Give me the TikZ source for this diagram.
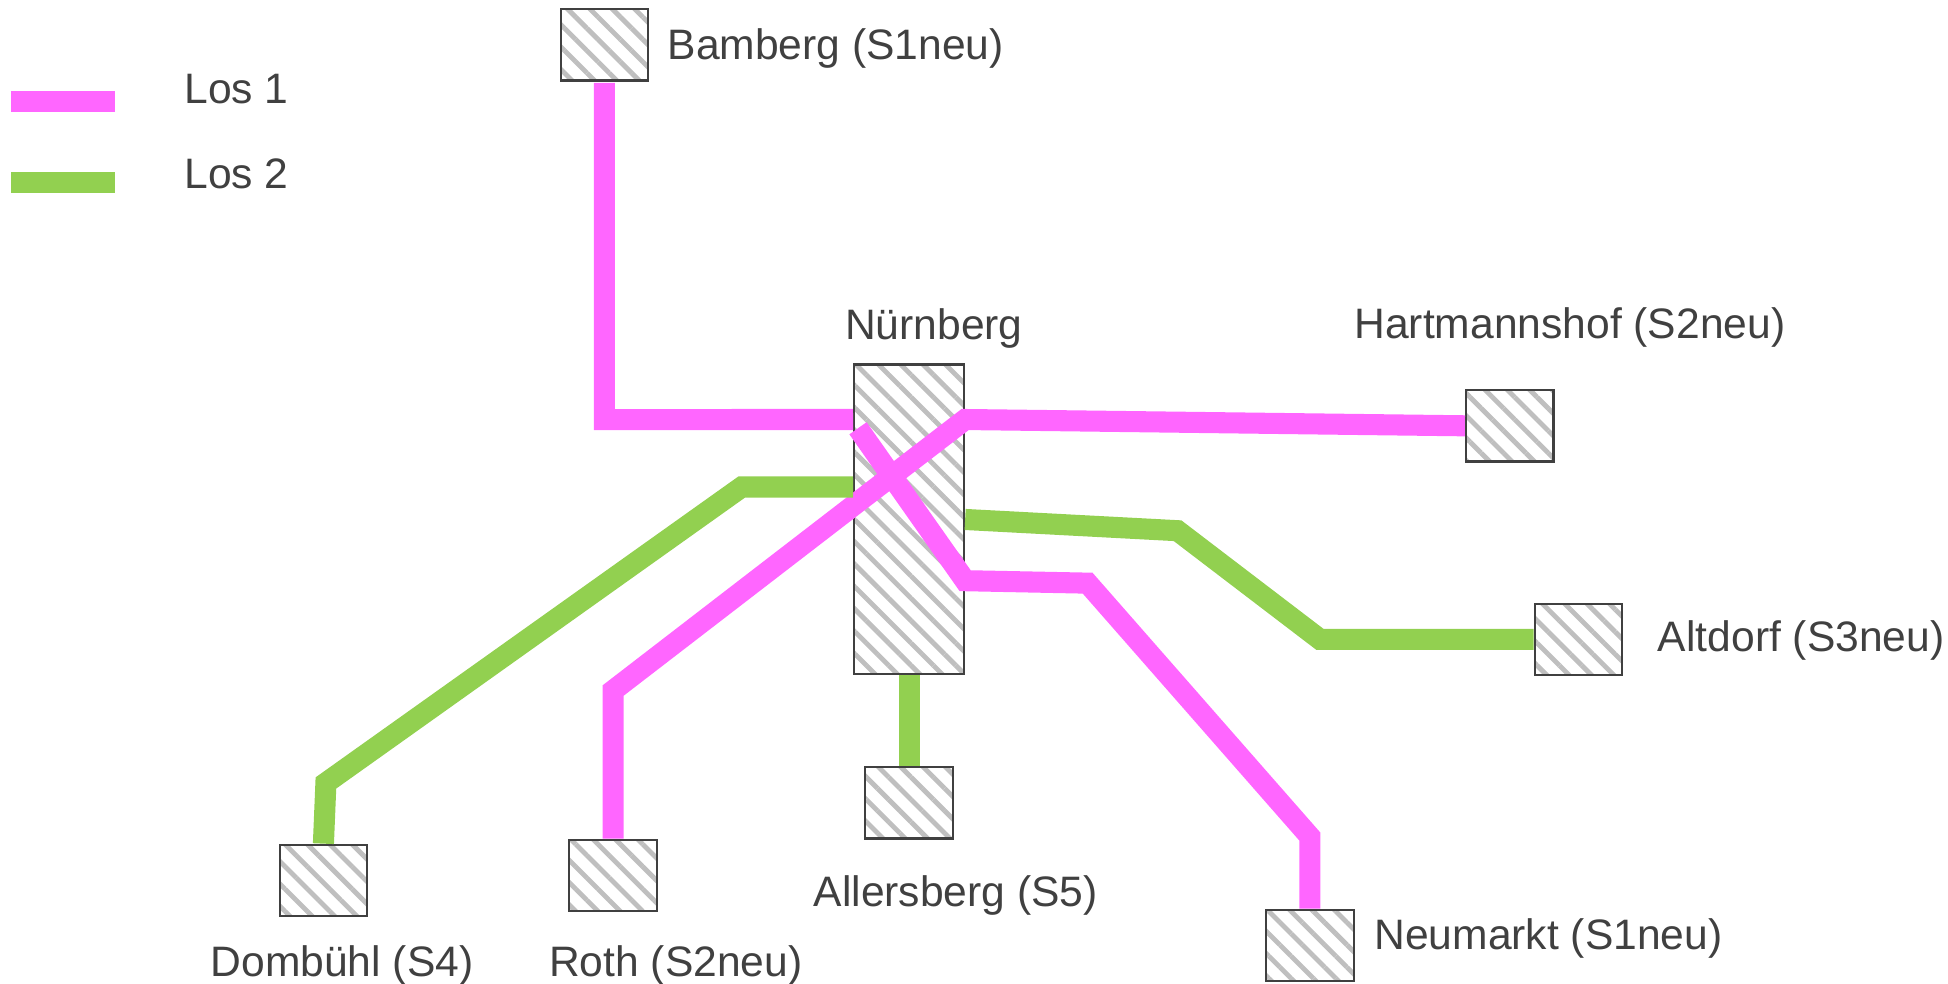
\documentclass[tikz,border=0pt]{standalone}
\usepackage{fontspec}
\setmainfont{Liberation Sans}
\usepackage{xcolor}
\usepackage{tikz}
\usetikzlibrary{patterns.meta}

\definecolor{loseins}{HTML}{FF66FF}
\definecolor{loszwei}{HTML}{92D050}
\definecolor{textgrau}{HTML}{404040}

\begin{document}
\begin{tikzpicture}[
    x=0.01cm,y=-0.01cm,
    station/.style={draw=textgrau,line width=0.5pt,inner sep=0pt,
      minimum width=0.7cm,minimum height=0.57cm,
      pattern={Lines[angle=-45,distance=3.6pt,line width=1.1pt]},
      pattern color=black!25},
    tlabel/.style={anchor=base west,inner sep=0pt,
      font=\fontsize{9.7}{11.6}\selectfont,text=textgrau},
    los1/.style={draw=loseins,line width=4.8pt},
    los2/.style={draw=loszwei,line width=4.8pt},
  ]
  \useasboundingbox (0,0) rectangle (1560,788);

  % Legende
  \coordinate (l1a) at (9,81);
  \coordinate (l1b) at (92,81);
  \coordinate (l2a) at (9,146);
  \coordinate (l2b) at (92,146);
  \draw[los1] (l1a) -- (l1b);
  \draw[los2] (l2a) -- (l2b);
  \node[tlabel] (tlos1) at (147,83) {Los 1};
  \node[tlabel] (tlos2) at (147,151) {Los 2};

  % Stationen
  \node[station] (bamberg) at (484,36) {};
  \node[station,minimum width=0.88cm,minimum height=2.48cm] (nbg) at (728,416) {};
  \node[station] (hart) at (1209,341) {};
  \node[station] (altdorf) at (1264,512) {};
  \node[station] (allers) at (728,643) {};
  \node[station] (neum) at (1049,757) {};
  \node[station] (roth) at (491,701) {};
  \node[station] (domb) at (259,705) {};

  \node[tlabel] (tbamberg) at (534,48) {Bamberg (S1neu)};
  \node[tlabel] (tnbg) at (676,272) {Nürnberg};
  \node[tlabel] (thart) at (1084,271) {Hartmannshof (S2neu)};
  \node[tlabel] (taltdorf) at (1327,522) {Altdorf (S3neu)};
  \node[tlabel] (tallers) at (651,726) {Allersberg (S5)};
  \node[tlabel] (tneum) at (1100,760) {Neumarkt (S1neu)};
  \node[tlabel] (troth) at (439,782) {Roth (S2neu)};
  \node[tlabel] (tdomb) at (168,782) {Dombühl (S4)};

  % Knicke
  \coordinate (b1) at (484,336);
  \coordinate (r1) at (491,553);
  \coordinate (n2) at (871,467);
  \coordinate (n3) at (1049,670);
  \coordinate (d1) at (594,390);
  \coordinate (d2) at (261,627);
  \coordinate (a1) at (943,425);
  \coordinate (a2) at (1057,512);

  % Los 1
  \draw[los1] (bamberg.south) -- (b1) -- ([yshift=0.8cm]nbg.west);
  \draw[los1] (hart.west) -- ([yshift=0.8cm]nbg.east) -- (r1) -- (roth.north);
  \draw[los1] ([shift={(0.04cm,0.73cm)}]nbg.west) -- ([yshift=-0.49cm]nbg.east)
    -- (n2) -- (n3) -- (neum.north);

  % Los 2
  \draw[los2] ([yshift=0.26cm]nbg.west) -- (d1) -- (d2) -- (domb.north);
  \draw[los2] (nbg.east) -- (a1) -- (a2) -- (altdorf.west);
  \draw[los2] (nbg.south) -- (allers.north);
\end{tikzpicture}
\end{document}
